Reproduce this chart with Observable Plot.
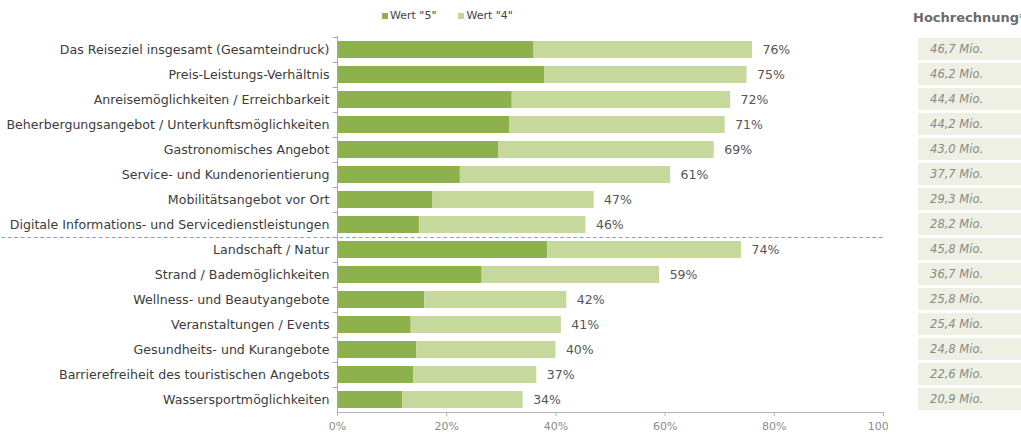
<!DOCTYPE html>
<html>
<head>
<meta charset="utf-8">
<script src="https://cdn.jsdelivr.net/npm/d3@7"></script>
<script src="https://cdn.jsdelivr.net/npm/@observablehq/plot@0.6"></script>
<style>
  html, body { margin: 0; padding: 0; background: #fff; }
  #wrap { position: relative; width: 1021px; height: 436px; overflow: hidden; font-family: "DejaVu Sans", sans-serif; }
  #legend { position: absolute; top: 9px; left: 382px; display: flex; align-items: center; font-size: 11px; color: #444; white-space: nowrap; }
  #legend .sw { display: inline-block; width: 6px; height: 6px; margin-right: 2px; }
  #legend .item { display: flex; align-items: center; margin-right: 22px; }
  #main { position: absolute; top: 30px; left: 0; }
  #hdr { position: absolute; top: 10px; left: 913px; width: 108px; overflow: hidden; white-space: nowrap; font-weight: bold; font-size: 13px; color: #6b6b6b; }
  #right { position: absolute; top: 30px; left: 913px; }
</style>
</head>
<body>
<div id="wrap">
  <div id="legend"></div>
  <div id="main"></div>
  <div id="hdr"></div>
  <div id="right"></div>
</div>
<script>
// ---- data ----
const categories = [
  "Das Reiseziel insgesamt (Gesamteindruck)",
  "Preis-Leistungs-Verhältnis",
  "Anreisemöglichkeiten / Erreichbarkeit",
  "Beherbergungsangebot / Unterkunftsmöglichkeiten",
  "Gastronomisches Angebot",
  "Service- und Kundenorientierung",
  "Mobilitätsangebot vor Ort",
  "Digitale Informations- und Servicedienstleistungen",
  "Landschaft / Natur",
  "Strand / Bademöglichkeiten",
  "Wellness- und Beautyangebote",
  "Veranstaltungen / Events",
  "Gesundheits- und Kurangebote",
  "Barrierefreiheit des touristischen Angebots",
  "Wassersportmöglichkeiten"
];
const seriesNames = ['Wert "5"', 'Wert "4"'];
const wert5 = [36, 38, 32, 31.5, 29.5, 22.5, 17.5, 15, 38.5, 26.5, 16, 13.5, 14.5, 14, 12];
const wert4 = [40, 37, 40, 39.5, 39.5, 38.5, 29.5, 30.5, 35.5, 32.5, 26, 27.5, 25.5, 22.5, 22];
const totalLabels = ["76%", "75%", "72%", "71%", "69%", "61%", "47%", "46%", "74%", "59%", "42%", "41%", "40%", "37%", "34%"];
const hochrechnung = ["46,7 Mio.", "46,2 Mio.", "44,4 Mio.", "44,2 Mio.", "43,0 Mio.", "37,7 Mio.", "29,3 Mio.", "28,2 Mio.",
                      "45,8 Mio.", "36,7 Mio.", "25,8 Mio.", "25,4 Mio.", "24,8 Mio.", "22,6 Mio.", "20,9 Mio."];
const xTicks = [0, 20, 40, 60, 80, 100];
const separatorBefore = ["Landschaft / Natur"];
const headerText = "Hochrechnung*";

// ---- styles ----
const colors = ["#8db14c", "#c6d89c"];
const H = 406, MT = 6, MB = 24;
const step = (H - MT - MB) / categories.length;

// long table for stacking
const long = [];
seriesNames.forEach((s, si) => {
  const vals = si === 0 ? wert5 : wert4;
  categories.forEach((c, i) => long.push({cat: c, series: s, value: vals[i]}));
});
const totals = categories.map((c, i) => ({cat: c, total: wert5[i] + wert4[i], label: totalLabels[i]}));

// legend
const leg = document.getElementById("legend");
seriesNames.forEach((s, i) => {
  const it = document.createElement("span");
  it.className = "item";
  const sw = document.createElement("span");
  sw.className = "sw";
  sw.style.background = colors[i];
  it.appendChild(sw);
  it.appendChild(document.createTextNode(s));
  leg.appendChild(it);
});
document.getElementById("hdr").textContent = headerText;

const main = Plot.plot({
  width: 888,
  height: H,
  marginLeft: 337,
  marginRight: 5,
  marginTop: MT,
  marginBottom: MB,
  style: {fontFamily: "DejaVu Sans, sans-serif", fontSize: "12px", overflow: "hidden", background: "#fff"},
  x: {domain: [0, 100], label: null},
  y: {domain: categories, paddingInner: 0.32, paddingOuter: 0.16, label: null},
  color: {domain: seriesNames, range: colors},
  marks: [
    Plot.barX(long, Plot.stackX({x: "value", y: "cat", fill: "series", order: null})),
    Plot.text(totals, {x: "total", y: "cat", text: "label", textAnchor: "start", dx: 10, fill: "#555", fontSize: 12.5}),
    // left axis line and band-boundary ticks
    Plot.ruleX([0], {stroke: "#9aa6c2"}),
    Plot.ruleY(categories, {y: d => d, x1: -0.8, x2: 0, dy: -step / 2, stroke: "#9aa6c2"}),
    // dashed separator
    Plot.ruleY(separatorBefore, {y: d => d, x1: -61.5, x2: 100, dy: -step / 2, stroke: "#8f9bb8", strokeDasharray: "4,2.5"}),
    // bottom axis line
    Plot.ruleY([categories[categories.length - 1]], {y: d => d, dy: step / 2, stroke: "#b5b5b5"}),
    Plot.axisY({tickSize: 0, tickPadding: 8, fill: "#3c3c3c", fontSize: 12.6, label: null}),
    Plot.axisX({ticks: xTicks, tickFormat: d => d + "%", tickSize: 4, tickPadding: 6, stroke: "#b5b5b5", fill: "#8c8c8c", fontSize: 11, label: null})
  ]
});
document.getElementById("main").appendChild(main);

const right = Plot.plot({
  width: 108,
  height: H,
  marginLeft: 5,
  marginRight: 0,
  marginTop: MT,
  marginBottom: MB,
  style: {fontFamily: "DejaVu Sans, sans-serif", fontSize: "11px", background: "#fff"},
  x: {domain: [0, 1], axis: null},
  y: {domain: categories, paddingInner: 0.12, paddingOuter: 0.06, axis: null},
  marks: [
    Plot.barX(categories, {y: d => d, x1: 0, x2: 1, fill: "#edf0e3"}),
    Plot.text(categories, {y: d => d, x: 0.37, text: (d, i) => hochrechnung[i], fill: "#8a8a8a", fontStyle: "italic", fontSize: 11.5})
  ]
});
document.getElementById("right").appendChild(right);
</script>
</body>
</html>
